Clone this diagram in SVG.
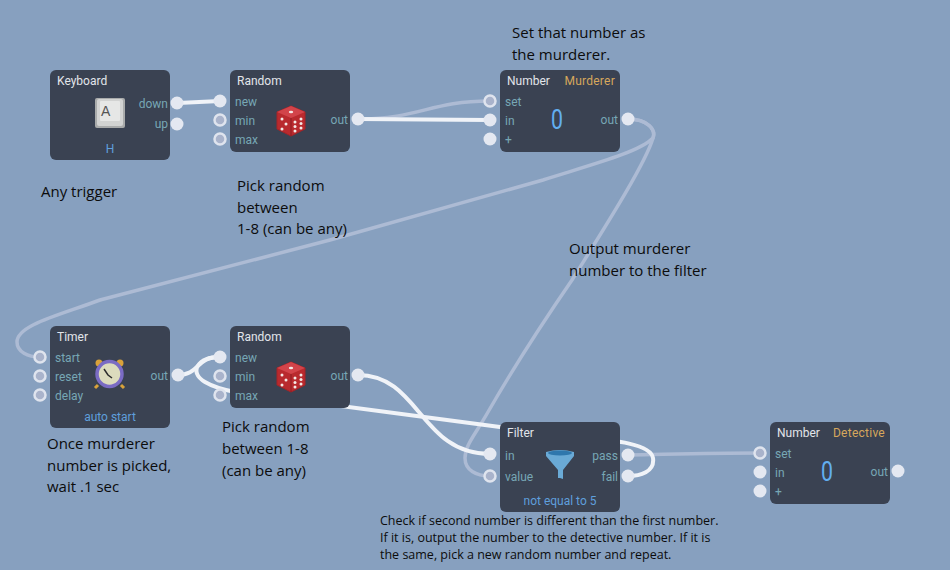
<svg xmlns="http://www.w3.org/2000/svg" width="950" height="570" viewBox="0 0 950 570">
<style>
.n{fill:#3a4252}
.w{fill:none;stroke:#f0f3f8;stroke-width:4;stroke-linecap:round}
.p{fill:none;stroke:#adbbd4;stroke-width:3.500;stroke-linecap:round}
.on{fill:#e4e8f1}
.off{fill:#a9b3cb;stroke:#dfe4ee;stroke-width:2.500}
.t,.l,.b,.o,.v{font-family:"Roboto","Inter","Liberation Sans",sans-serif;font-size:12px}
.t{fill:#e2e5ea}
.l{fill:#77a7b5}
.b{fill:#5f9fdc;text-anchor:middle}
.o{fill:#d6a75c;text-anchor:end;letter-spacing:.25px}
.v{font-size:27px;font-weight:400;fill:#62aef0}
.r{text-anchor:end}
.c{font-family:"Open Sans","Noto Sans","Liberation Sans",sans-serif;font-size:15px;fill:#0c0c0c}
.s{font-family:"Open Sans","Noto Sans","Liberation Sans",sans-serif;font-size:12.500px;fill:#0c0c0c}
</style>
<defs>
<g id="dice">
<path d="M0-14 14-8 14 9 0 16-14 9-14-8Z" fill="#b92a2e" stroke="#a62226" stroke-width="1" stroke-linejoin="round"/>
<path d="M0-14 14-8 0-2-14-8Z" fill="#d2444a"/>
<path d="M0-2V16" stroke="#8e1c22" stroke-width="1"/>
<g fill="#f4e9e6"><ellipse cx="0" cy="-8" rx="2.200" ry="1.200"/><circle cx="-9" cy="-1" r="1.500"/><circle cx="-5" cy="4" r="1.500"/><circle cx="-9" cy="9" r="1.500"/><circle cx="4" cy="2" r="1.500"/><circle cx="10" cy="-1" r="1.500"/><circle cx="4" cy="6.500" r="1.500"/><circle cx="10" cy="3.500" r="1.500"/><circle cx="4" cy="11" r="1.500"/><circle cx="10" cy="8" r="1.500"/></g>
</g>
</defs>
<rect width="950" height="570" fill="#87a0bf"/>
<g id="connectors">
<path class="p" d="M358 119C420 119 430 101 490 101"/>
<path class="p" d="M628 119C648 119 656 130 653 138C640 152 590 165 543 180L330 240L100 300C60 315 17 325 17 342C17 352 28 357 40 357"/>
<path class="p" d="M628 119C648 119 656 130 653 138C645 165 600 235 572 280C550 312 515 365 488 412C475 435 465 445 465 458C465 470 476 476 490 476"/>
<path class="p" d="M628 455C680 454 710 453 760 453"/>
<path class="w" d="M178 103L220 101"/>
<path class="w" d="M358 119L490 120"/>
<path class="w" d="M178 375C200 375 195 357 220 357"/>
<path class="w" d="M220 357C198 357 188 372 205 382C215 388 225 390 235 392L500 427C600 440 650 440 653 458C655 472 640 476 628 476"/>
<path class="w" d="M358 375C420 375 420 454 490 454"/>
</g>
<g id="keyboard">
<rect class="n" x="50" y="70" width="120" height="90" rx="6"/>
<text class="t" x="57" y="85">Keyboard</text>
<rect x="95" y="98" width="30" height="30" rx="2" fill="#a9abab"/>
<rect x="97" y="99" width="26" height="27" rx="2" fill="#d2d3d2"/>
<rect x="100" y="101" width="20" height="20" rx="1" fill="#e6e7e6"/>
<text x="101" y="116" font-family="Liberation Sans,sans-serif" font-size="14" fill="#555">A</text>
<text class="l r" x="168" y="108">down</text><text class="l r" x="168" y="128">up</text>
<text class="b" x="110" y="153">H</text>
<circle class="on" cx="177" cy="103" r="6.500"/><circle class="on" cx="177" cy="124" r="6.500"/>
</g>
<g id="random1">
<rect class="n" x="230" y="70" width="120" height="82" rx="6"/>
<text class="t" x="237" y="85">Random</text>
<text class="l" x="235" y="106">new</text><text class="l" x="235" y="125">min</text><text class="l" x="235" y="144">max</text>
<text class="l r" x="348" y="124">out</text>
<use href="#dice" x="291" y="120"/>
<circle class="on" cx="220" cy="101" r="6.500"/><circle class="off" cx="220" cy="120" r="5.500"/><circle class="off" cx="220" cy="139" r="5.500"/><circle class="on" cx="358" cy="119" r="6.500"/>
</g>
<g id="murderer">
<rect class="n" x="500" y="70" width="120" height="82" rx="6"/>
<text class="t" x="507" y="85">Number</text><text class="o" x="615" y="85">Murderer</text>
<text class="l" x="505" y="106">set</text><text class="l" x="505" y="125">in</text><text class="l" x="505" y="144">+</text>
<text class="v" x="551" y="129" textLength="12" lengthAdjust="spacingAndGlyphs">0</text>
<text class="l r" x="618" y="124">out</text>
<circle class="off" cx="490" cy="101" r="5.500"/><circle class="on" cx="490" cy="120" r="6.500"/><circle class="on" cx="490" cy="139" r="6.500"/><circle class="on" cx="628" cy="119" r="6.500"/>
</g>
<g id="timer">
<rect class="n" x="50" y="326" width="120" height="102" rx="6"/>
<text class="t" x="57" y="341">Timer</text>
<text class="l" x="55" y="362">start</text><text class="l" x="55" y="381">reset</text><text class="l" x="55" y="400">delay</text>
<text class="l r" x="168" y="380">out</text>
<text class="b" x="110" y="421">auto start</text>
<circle cx="99" cy="363" r="3.500" fill="#d9a23a"/><circle cx="120" cy="363" r="3.500" fill="#d9a23a"/>
<path d="M98 385l-3 3M121 385l3 3" stroke="#d9a23a" stroke-width="3"/>
<circle cx="109.500" cy="374" r="12.500" fill="#dcdbbd" stroke="#7a6bc4" stroke-width="3.500"/>
<path d="M104 369L108 375L112 378" fill="none" stroke="#2c2c2c" stroke-width="1.500"/>
<circle class="off" cx="40" cy="357" r="5.500"/><circle class="off" cx="40" cy="376" r="5.500"/><circle class="off" cx="40" cy="395" r="5.500"/><circle class="on" cx="178" cy="375" r="6.500"/>
</g>
<g id="random2">
<rect class="n" x="230" y="326" width="120" height="82" rx="6"/>
<text class="t" x="237" y="341">Random</text>
<text class="l" x="235" y="362">new</text><text class="l" x="235" y="381">min</text><text class="l" x="235" y="400">max</text>
<text class="l r" x="348" y="380">out</text>
<use href="#dice" x="291" y="376"/>
<circle class="on" cx="220" cy="357" r="6.500"/><circle class="off" cx="220" cy="376" r="5.500"/><circle class="off" cx="220" cy="395" r="5.500"/><circle class="on" cx="358" cy="375" r="6.500"/>
</g>
<g id="filter">
<rect class="n" x="500" y="422" width="120" height="90" rx="6"/>
<text class="t" x="507" y="437">Filter</text>
<text class="l" x="505" y="460">in</text><text class="l" x="505" y="481">value</text>
<text class="l r" x="618" y="460">pass</text><text class="l r" x="618" y="481">fail</text>
<text class="b" x="560" y="505">not equal to 5</text>
<path d="M546 452Q560 448 574 452L574 456L563 470V479L560 478L558 478V470L546 456Z" fill="#6aaad6"/>
<ellipse cx="560" cy="453" rx="12" ry="2.500" fill="#2f77ad"/>
<circle class="on" cx="490" cy="454" r="6.500"/><circle class="off" cx="490" cy="476" r="5.500"/><circle class="on" cx="628" cy="455" r="6.500"/><circle class="on" cx="628" cy="476" r="6.500"/>
</g>
<g id="detective">
<rect class="n" x="770" y="422" width="120" height="82" rx="6"/>
<text class="t" x="777" y="437">Number</text><text class="o" x="885" y="437">Detective</text>
<text class="l" x="775" y="458">set</text><text class="l" x="775" y="477">in</text><text class="l" x="775" y="496">+</text>
<text class="v" x="821" y="481" textLength="12" lengthAdjust="spacingAndGlyphs">0</text>
<text class="l r" x="888" y="476">out</text>
<circle class="off" cx="760" cy="453" r="5.500"/><circle class="on" cx="760" cy="472" r="6.500"/><circle class="on" cx="760" cy="491" r="6.500"/><circle class="on" cx="898" cy="471" r="6.500"/>
</g>
<g id="annotations">
<text class="c" x="512" y="38">Set that number as</text><text class="c" x="512" y="60">the murderer.</text>
<text class="c" x="41" y="197">Any trigger</text>
<text class="c" x="237" y="191">Pick random</text><text class="c" x="237" y="213">between</text><text class="c" x="237" y="234">1-8 (can be any)</text>
<text class="c" x="569" y="254">Output murderer</text><text class="c" x="569" y="276">number to the filter</text>
<text class="c" x="47" y="449">Once murderer</text><text class="c" x="47" y="471">number is picked,</text><text class="c" x="47" y="492">wait .1 sec</text>
<text class="c" x="222" y="432">Pick random</text><text class="c" x="222" y="454">between 1-8</text><text class="c" x="222" y="476">(can be any)</text>
<text class="s" x="380" y="525">Check if second number is different than the first number.</text>
<text class="s" x="380" y="542">If it is, output the number to the detective number. If it is</text>
<text class="s" x="380" y="559">the same, pick a new random number and repeat.</text>
</g>
</svg>
